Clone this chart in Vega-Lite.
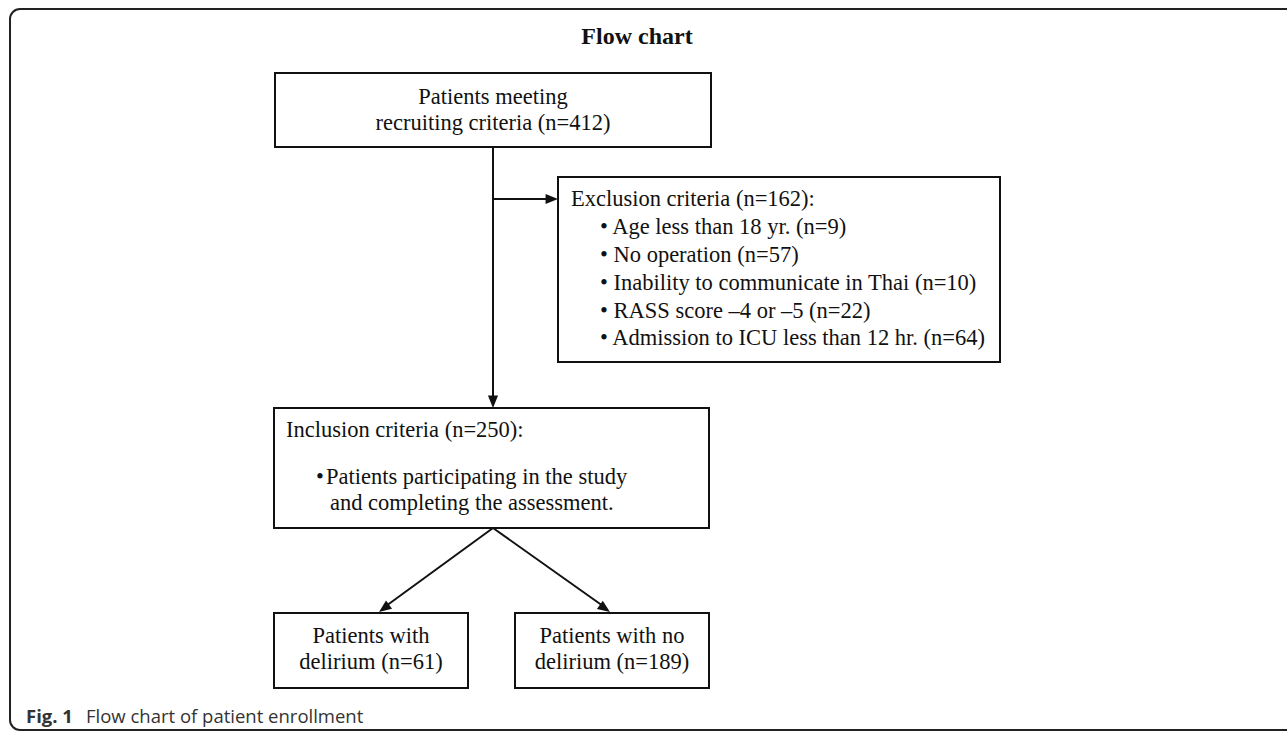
{
  "$schema": "https://vega.github.io/schema/vega-lite/v6.json",
  "width": 1287,
  "height": 733,
  "autosize": "none",
  "padding": 0,
  "background": "white",
  "config": {"view": {"stroke": null}},
  "datasets": {
    "frame": [{"x0": 10, "y0": 9, "x1": 1305, "y1": 730}],
    "boxes": [
      {"name": "recruited", "x0": 275, "y0": 73, "x1": 711, "y1": 147},
      {"name": "excluded", "x0": 558, "y0": 177, "x1": 1000, "y1": 362},
      {"name": "included", "x0": 274, "y0": 408, "x1": 709, "y1": 528},
      {"name": "delirium", "x0": 274, "y0": 613, "x1": 468, "y1": 688},
      {"name": "no delirium", "x0": 515, "y0": 613, "x1": 709, "y1": 688}
    ],
    "edges": [
      {"x0": 493, "y0": 147, "x1": 493, "y1": 400, "tx": 493, "ty": 408, "angle": 180},
      {"x0": 493, "y0": 199, "x1": 550, "y1": 199, "tx": 558, "ty": 199, "angle": 90},
      {"x0": 493, "y0": 528, "x1": 386, "y1": 606, "tx": 379, "ty": 612, "angle": 233.7},
      {"x0": 493, "y0": 528, "x1": 603, "y1": 606, "tx": 610, "ty": 612, "angle": 125.4}
    ],
    "texts": [
      {"role": "title", "t": "Flow chart", "x": 637, "y": 37},
      {"role": "center", "t": "Patients meeting", "x": 493, "y": 97},
      {"role": "center", "t": "recruiting criteria (n=412)", "x": 493, "y": 123},
      {"role": "center", "t": "Patients with", "x": 371, "y": 636},
      {"role": "center", "t": "delirium (n=61)", "x": 371, "y": 662},
      {"role": "center", "t": "Patients with no", "x": 612, "y": 636},
      {"role": "center", "t": "delirium (n=189)", "x": 612, "y": 662},
      {"role": "left", "t": "Exclusion criteria (n=162):", "x": 571, "y": 199},
      {"role": "left", "t": "• Age less than 18 yr. (n=9)", "x": 600, "y": 227},
      {"role": "left", "t": "• No operation (n=57)", "x": 600, "y": 255},
      {"role": "left", "t": "• Inability to communicate in Thai (n=10)", "x": 600, "y": 283},
      {"role": "left", "t": "• RASS score –4 or –5 (n=22)", "x": 600, "y": 311},
      {"role": "left", "t": "• Admission to ICU less than 12 hr. (n=64)", "x": 600, "y": 338},
      {"role": "left", "t": "Inclusion criteria (n=250):", "x": 286, "y": 430},
      {"role": "left", "t": "•", "x": 316, "y": 477},
      {"role": "left", "t": "Patients participating in the study", "x": 326, "y": 477},
      {"role": "left", "t": "and completing the assessment.", "x": 330, "y": 503},
      {"role": "figlabel", "t": "Fig. 1", "x": 26, "y": 717},
      {"role": "caption", "t": "Flow chart of patient enrollment", "x": 86, "y": 717}
    ]
  },
  "layer": [
    {
      "data": {"name": "frame"},
      "mark": {"type": "rect", "fill": null, "stroke": "#222222", "strokeWidth": 2, "cornerRadius": 10},
      "encoding": {
        "x": {"field": "x0", "type": "quantitative", "scale": {"domain": [0, 1287], "nice": false, "zero": false}, "axis": null},
        "x2": {"field": "x1"},
        "y": {"field": "y0", "type": "quantitative", "scale": {"domain": [0, 733], "nice": false, "zero": false, "reverse": true}, "axis": null},
        "y2": {"field": "y1"}
      }
    },
    {
      "data": {"name": "boxes"},
      "mark": {"type": "rect", "fill": "white", "stroke": "#111111", "strokeWidth": 2},
      "encoding": {
        "x": {"field": "x0", "type": "quantitative", "axis": null},
        "x2": {"field": "x1"},
        "y": {"field": "y0", "type": "quantitative", "axis": null},
        "y2": {"field": "y1"}
      }
    },
    {
      "data": {"name": "edges"},
      "mark": {"type": "rule", "stroke": "#111111", "strokeWidth": 2},
      "encoding": {
        "x": {"field": "x0", "type": "quantitative", "axis": null},
        "x2": {"field": "x1"},
        "y": {"field": "y0", "type": "quantitative", "axis": null},
        "y2": {"field": "y1"}
      }
    },
    {
      "data": {"name": "edges"},
      "mark": {"type": "point", "shape": "M0,0L-0.55,1.35L0.55,1.35Z", "filled": true, "fill": "#111111", "stroke": null, "opacity": 1, "size": 340},
      "encoding": {
        "x": {"field": "tx", "type": "quantitative", "axis": null},
        "y": {"field": "ty", "type": "quantitative", "axis": null},
        "angle": {"field": "angle", "type": "quantitative", "scale": null}
      }
    },
    {
      "data": {"name": "texts"},
      "transform": [{"filter": "datum.role === 'title'"}],
      "mark": {"type": "text", "font": "Liberation Serif", "fontSize": 24, "fontWeight": "bold", "align": "center", "baseline": "middle", "color": "#111111"},
      "encoding": {
        "x": {"field": "x", "type": "quantitative", "axis": null},
        "y": {"field": "y", "type": "quantitative", "axis": null},
        "text": {"field": "t"}
      }
    },
    {
      "data": {"name": "texts"},
      "transform": [{"filter": "datum.role === 'center'"}],
      "mark": {"type": "text", "font": "Liberation Serif", "fontSize": 22.5, "align": "center", "baseline": "middle", "color": "#111111"},
      "encoding": {
        "x": {"field": "x", "type": "quantitative", "axis": null},
        "y": {"field": "y", "type": "quantitative", "axis": null},
        "text": {"field": "t"}
      }
    },
    {
      "data": {"name": "texts"},
      "transform": [{"filter": "datum.role === 'left'"}],
      "mark": {"type": "text", "font": "Liberation Serif", "fontSize": 22.5, "align": "left", "baseline": "middle", "color": "#111111"},
      "encoding": {
        "x": {"field": "x", "type": "quantitative", "axis": null},
        "y": {"field": "y", "type": "quantitative", "axis": null},
        "text": {"field": "t"}
      }
    },
    {
      "data": {"name": "texts"},
      "transform": [{"filter": "datum.role === 'figlabel'"}],
      "mark": {"type": "text", "font": "Open Sans", "fontSize": 18.5, "fontWeight": "bold", "align": "left", "baseline": "middle", "color": "#333333"},
      "encoding": {
        "x": {"field": "x", "type": "quantitative", "axis": null},
        "y": {"field": "y", "type": "quantitative", "axis": null},
        "text": {"field": "t"}
      }
    },
    {
      "data": {"name": "texts"},
      "transform": [{"filter": "datum.role === 'caption'"}],
      "mark": {"type": "text", "font": "Open Sans", "fontSize": 18.5, "align": "left", "baseline": "middle", "color": "#333333"},
      "encoding": {
        "x": {"field": "x", "type": "quantitative", "axis": null},
        "y": {"field": "y", "type": "quantitative", "axis": null},
        "text": {"field": "t"}
      }
    }
  ]
}
